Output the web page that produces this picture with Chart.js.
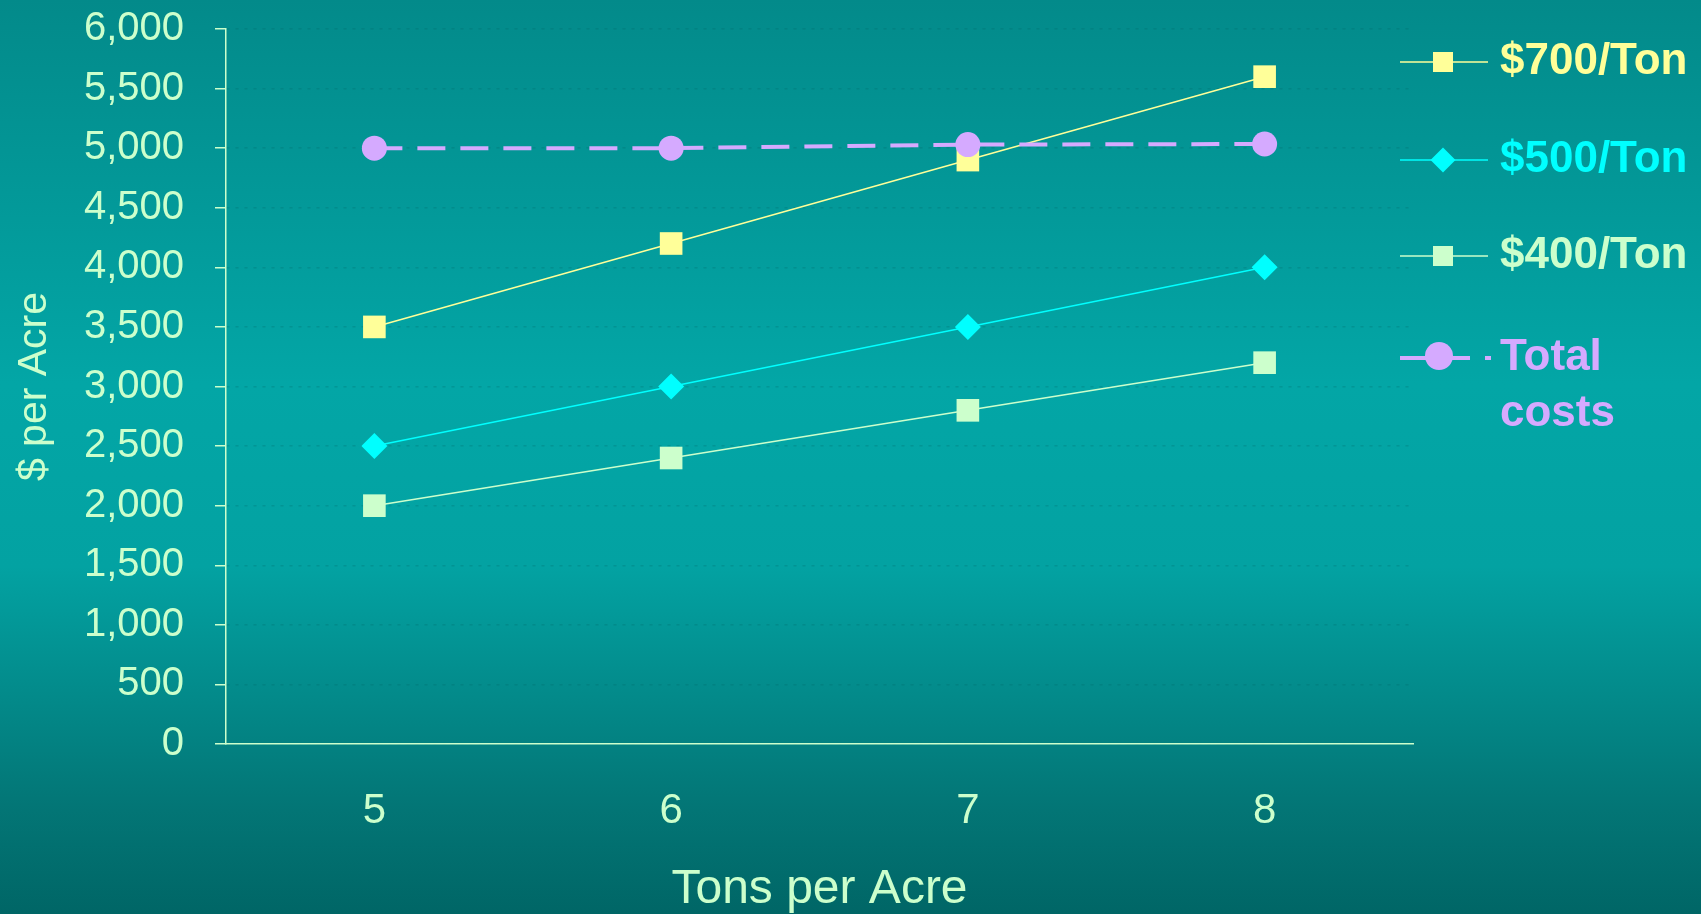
<!DOCTYPE html>
<html>
<head>
<meta charset="utf-8">
<script src="https://cdn.jsdelivr.net/npm/chart.js@4"></script>
<style>
    html, body { margin: 0; padding: 0; background: #039a9a; }
    #wrap { width: 1701px; height: 914px; }
</style>
</head>
<body>
<div id="wrap"><canvas id="revenueChart" width="1701" height="914"></canvas></div>
<script>
// Tons per acre on the x axis
const tonsPerAcre = ['5', '6', '7', '8'];

// $ per acre for each price
const revenue700 = [3500, 4200, 4900, 5600];
const revenue500 = [2500, 3000, 3500, 4000];
const revenue400 = [2000, 2400, 2800, 3200];
const totalCosts = [5000, 5000, 5030, 5035];

const seriesNames = ['$700/Ton', '$500/Ton', '$400/Ton', 'Total costs'];

const yMin = 0;
const yMax = 6000;
const yStep = 500;

const textColor = '#ccffcc';
const fontFamily = "'Liberation Sans', Arial, sans-serif";

// Teal slide background
const backgroundPlugin = {
    id: 'slideBackground',
    beforeDraw(chart) {
        const ctx = chart.ctx;
        const g = ctx.createLinearGradient(0, 0, 0, chart.height);
        g.addColorStop(0, '#038a8a');
        g.addColorStop(0.42, '#03a6a6');
        g.addColorStop(0.62, '#03a2a2');
        g.addColorStop(0.88, '#037676');
        g.addColorStop(1, '#006666');
        ctx.save();
        ctx.fillStyle = g;
        ctx.fillRect(0, 0, chart.width, chart.height);
        ctx.restore();
    }
};

// Legend on the right, drawn from the dataset styles
const sideLegendPlugin = {
    id: 'sideLegend',
    afterDraw(chart) {
        const ctx = chart.ctx;
        const rows = [62, 160, 256, 358];
        const textColors = ['#ffff99', '#00ffff', '#ccffcc', '#d5aaff'];
        ctx.save();
        chart.data.datasets.forEach((ds, i) => {
            const y = rows[i];
            ctx.strokeStyle = ds.borderColor;
            ctx.lineWidth = ds.borderWidth;
            ctx.setLineDash(ds.borderDash ? [70, 15] : []);
            ctx.beginPath();
            ctx.moveTo(1400, y);
            ctx.lineTo(ds.borderDash ? 1491 : 1488, y);
            ctx.stroke();
            ctx.setLineDash([]);

            ctx.fillStyle = ds.pointBackgroundColor;
            const cx = 1443;
            ctx.beginPath();
            if (ds.pointStyle === 'rect') {
                ctx.rect(cx - 10, y - 10, 20, 20);
            } else if (ds.pointStyle === 'rectRot') {
                ctx.moveTo(cx - 12.5, y);
                ctx.lineTo(cx, y - 12.5);
                ctx.lineTo(cx + 12.5, y);
                ctx.lineTo(cx, y + 12.5);
                ctx.closePath();
            } else {
                ctx.arc(cx - 4, y - 2, 14, 0, Math.PI * 2);
            }
            ctx.fill();

            ctx.fillStyle = textColors[i];
            ctx.font = 'bold 44px ' + fontFamily;
            ctx.textBaseline = 'middle';
            ctx.textAlign = 'left';
            const lines = i === 3 ? ['Total', 'costs'] : [ds.label];
            lines.forEach((t, k) => ctx.fillText(t, 1500, y + k * 56));
        });
        ctx.restore();
    }
};

function initializeRevenueChart() {
    const ctx = document.getElementById('revenueChart').getContext('2d');

    new Chart(ctx, {
        type: 'line',
        data: {
            labels: tonsPerAcre,
            datasets: [{
                label: seriesNames[0],
                data: revenue700,
                borderColor: '#ffff99',
                borderWidth: 1.5,
                pointStyle: 'rect',
                pointRadius: 16,
                pointBackgroundColor: '#ffff99',
                pointBorderWidth: 0,
                order: 1
            }, {
                label: seriesNames[1],
                data: revenue500,
                borderColor: '#00ffff',
                borderWidth: 1.5,
                pointStyle: 'rectRot',
                pointRadius: 13,
                pointBackgroundColor: '#00ffff',
                pointBorderWidth: 0,
                order: 2
            }, {
                label: seriesNames[2],
                data: revenue400,
                borderColor: '#ccffcc',
                borderWidth: 1.5,
                pointStyle: 'rect',
                pointRadius: 16,
                pointBackgroundColor: '#ccffcc',
                pointBorderWidth: 0,
                order: 3
            }, {
                label: seriesNames[3],
                data: totalCosts,
                borderColor: '#d5aaff',
                borderWidth: 4,
                borderDash: [28, 15],
                pointStyle: 'circle',
                pointRadius: 12.5,
                pointBackgroundColor: '#d5aaff',
                pointBorderWidth: 0,
                order: 0
            }]
        },
        options: {
            responsive: false,
            animation: false,
            layout: {
                autoPadding: false,
                padding: { left: 0, top: 29, right: 288, bottom: 0 }
            },
            plugins: {
                legend: { display: false },
                tooltip: { enabled: false }
            },
            elements: {
                line: { tension: 0, fill: false }
            },
            scales: {
                x: {
                    offset: true,
                    grid: { display: false },
                    border: { display: true, color: textColor, width: 1.5 },
                    ticks: {
                        color: textColor,
                        padding: 34,
                        font: { family: fontFamily, size: 42 }
                    },
                    title: {
                        display: true,
                        text: 'Tons per Acre',
                        color: textColor,
                        padding: { top: 0, bottom: 0 },
                        font: { family: fontFamily, size: 48, lineHeight: 1 }
                    },
                    afterFit: scale => { scale.height = 170; }
                },
                y: {
                    min: yMin,
                    max: yMax,
                    grid: {
                        color: 'rgba(0, 95, 95, 0.22)',
                        lineWidth: 1.5,
                        tickColor: textColor,
                        tickLength: 11,
                        tickWidth: 1.5
                    },
                    border: { display: true, color: textColor, width: 1.5, dash: [3, 6] },
                    ticks: {
                        stepSize: yStep,
                        color: textColor,
                        padding: 31,
                        font: { family: fontFamily, size: 40 },
                        callback: value => value.toLocaleString('en-US')
                    },
                    title: {
                        display: true,
                        text: '$ per Acre',
                        color: textColor,
                        padding: { top: 14, bottom: 0 },
                        font: { family: fontFamily, size: 41, lineHeight: 1 }
                    },
                    afterFit: scale => {
                        scale.width = 226;
                        scale.paddingTop = 0;
                        scale.paddingBottom = 0;
                    }
                }
            }
        },
        plugins: [backgroundPlugin, sideLegendPlugin]
    });
}

document.addEventListener('DOMContentLoaded', initializeRevenueChart);
</script>
</body>
</html>
